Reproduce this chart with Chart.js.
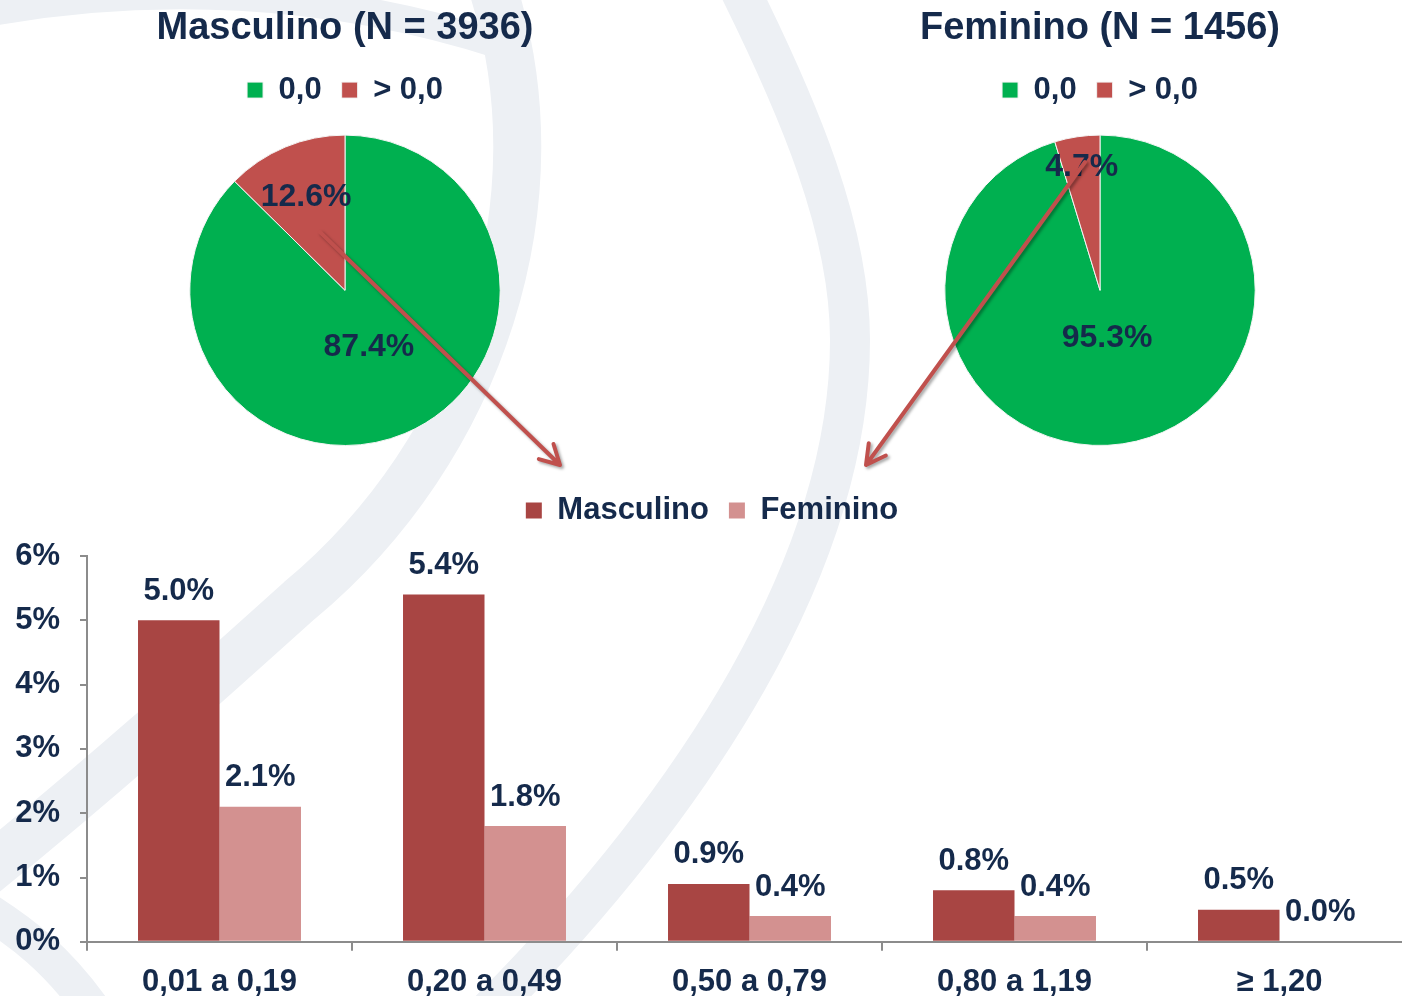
<!DOCTYPE html>
<html>
<head>
<meta charset="utf-8">
<script src="https://cdn.jsdelivr.net/npm/chart.js@4.4.1/dist/chart.umd.min.js"></script>
<style>
  body { margin: 0; background: #fff; overflow: hidden; width: 1402px; height: 996px; position: relative; }
  canvas { position: absolute; }
</style>
</head>
<body>
<canvas id="bg" width="1402" height="996" style="left:0;top:0"></canvas>
<canvas id="pieM" width="420" height="446" style="left:135px;top:0"></canvas>
<canvas id="pieF" width="420" height="446" style="left:890px;top:0"></canvas>
<canvas id="bars" width="1415" height="539" style="left:0;top:475px"></canvas>
<canvas id="overlay" width="1402" height="996" style="left:0;top:0;pointer-events:none"></canvas>
<script>
const pieLabels = ['0,0', '> 0,0']
const pieTitles = ['Masculino (N = 3936)', 'Feminino (N = 1456)']
const masculinoPie = [87.4, 12.6]
const femininoPie = [95.3, 4.7]

const categories = ['0,01 a 0,19', '0,20 a 0,49', '0,50 a 0,79', '0,80 a 1,19', '\u2265 1,20']
const masculinoBars = [5.0, 5.4, 0.9, 0.8, 0.5]
const femininoBars = [2.1, 1.8, 0.4, 0.4, 0.0]
const yMax = 6

const NAVY = '#152a4b'
const GREEN = '#00b050'
const RED = '#c0504d'
const BAR_M = '#a84543'
const BAR_F = '#d39190'
const AXIS = '#8c8c8c'
const FONT = '"Liberation Sans", Arial, sans-serif'

Chart.defaults.font.family = FONT
Chart.defaults.font.weight = 'bold'
Chart.defaults.color = NAVY
Chart.defaults.animation = false

// faint watermark arcs behind everything
const bg = document.getElementById('bg').getContext('2d')
bg.strokeStyle = '#edf0f4'
bg.lineCap = 'butt'
function band(w, segs) {
  bg.lineWidth = w
  bg.beginPath()
  bg.moveTo(segs[0][0], segs[0][1])
  segs.slice(1).forEach(s => bg.bezierCurveTo(s[0], s[1], s[2], s[3], s[4], s[5]))
  bg.stroke()
}
band(48, [[490, -20], [565, 200, 480, 450, 300, 600], [200, 690, 100, 780, -30, 885]])
band(40, [[735, -20], [800, 110, 850, 230, 850, 340], [850, 560, 700, 800, 480, 1020]])
band(28, [[-20, 14], [150, -18, 330, -10, 500, 45]])
band(36, [[-30, 900], [20, 930, 60, 960, 100, 1020]])

// give the legend some extra room underneath
const legendGap = {
  id: 'legendGap',
  beforeInit(chart, args, opts) {
    const fit = chart.legend.fit
    chart.legend.fit = function () {
      fit.call(this)
      this.height += opts.gap
    }
  }
}

const pieLabelPlugin = {
  id: 'pieLabels',
  afterDatasetsDraw(chart, args, opts) {
    const ctx = chart.ctx
    const meta = chart.getDatasetMeta(0)
    ctx.save()
    ctx.font = 'bold 32px ' + FONT
    ctx.fillStyle = NAVY
    ctx.textAlign = 'center'
    ctx.textBaseline = 'middle'
    meta.data.forEach((arc, i) => {
      const mid = (arc.startAngle + arc.endAngle) / 2
      const r = arc.outerRadius * opts.frac[i]
      const v = chart.data.datasets[0].data[i]
      ctx.fillText(v.toFixed(1) + '%', arc.x + Math.cos(mid) * r, arc.y + Math.sin(mid) * r)
    })
    ctx.restore()
  }
}

function makePie(id, title, values, frac) {
  return new Chart(document.getElementById(id), {
    type: 'pie',
    data: {
      labels: pieLabels,
      datasets: [{ data: values, backgroundColor: [GREEN, RED], borderColor: '#f4f4f4', borderWidth: 1 }]
    },
    options: {
      responsive: false,
      plugins: {
        title: { display: true, text: title, font: { size: 38, weight: 'bold' }, color: NAVY, padding: { top: 6, bottom: 3 } },
        legend: {
          position: 'top',
          labels: { boxWidth: 16, boxHeight: 16, padding: 20, font: { size: 31, weight: 'bold' }, color: NAVY }
        },
        tooltip: { enabled: false },
        legendGap: { gap: 19 },
        pieLabels: { frac: frac }
      }
    },
    plugins: [legendGap, pieLabelPlugin]
  })
}

makePie('pieM', pieTitles[0], masculinoPie, [0.4, 0.65])
makePie('pieF', pieTitles[1], femininoPie, [0.31, 0.8])

const barLabelPlugin = {
  id: 'barLabels',
  afterDatasetsDraw(chart) {
    const ctx = chart.ctx
    ctx.save()
    ctx.font = 'bold 31px ' + FONT
    ctx.fillStyle = NAVY
    ctx.textAlign = 'center'
    ctx.textBaseline = 'middle'
    chart.data.datasets.forEach((ds, di) => {
      chart.getDatasetMeta(di).data.forEach((bar, i) => {
        ctx.fillText(ds.data[i].toFixed(1) + '%', bar.x, bar.y - 29)
      })
    })
    ctx.restore()
  }
}

new Chart(document.getElementById('bars'), {
  type: 'bar',
  data: {
    labels: categories,
    datasets: [
      { label: 'Masculino', data: masculinoBars, backgroundColor: BAR_M, categoryPercentage: 0.615, barPercentage: 1 },
      { label: 'Feminino', data: femininoBars, backgroundColor: BAR_F, categoryPercentage: 0.615, barPercentage: 1 }
    ]
  },
  options: {
    responsive: false,
    layout: { padding: { left: 12, right: 3, top: 0, bottom: 0 } },
    plugins: {
      legend: {
        position: 'top',
        labels: { boxWidth: 16, boxHeight: 16, padding: 20, font: { size: 31, weight: 'bold' }, color: NAVY }
      },
      tooltip: { enabled: false },
      legendGap: { gap: 20 }
    },
    scales: {
      x: {
        grid: { display: true, drawOnChartArea: false, tickLength: 9, color: AXIS, lineWidth: 2 },
        border: { display: true, color: AXIS, width: 2 },
        ticks: { font: { size: 31, weight: 'bold' }, color: NAVY, padding: 13, maxRotation: 0 }
      },
      y: {
        min: 0,
        max: yMax,
        grid: { display: true, drawOnChartArea: false, tickLength: 7, color: AXIS, lineWidth: 2 },
        border: { display: true, color: AXIS, width: 2 },
        ticks: { stepSize: 1, font: { size: 31, weight: 'bold' }, color: NAVY, padding: 20, callback: v => v + '%' },
        afterFit(scale) { scale.width = 75 }
      }
    }
  },
  plugins: [legendGap, barLabelPlugin]
})

// arrows from the red slices down to the bar legend
const ARROWS = [
  { from: [320, 232], to: [560, 465] },
  { from: [1085, 162], to: [866, 465] }
]
const ov = document.getElementById('overlay').getContext('2d')
ov.strokeStyle = RED
ov.lineWidth = 4
ov.lineCap = 'round'
ov.lineJoin = 'round'
ov.shadowColor = 'rgba(0,0,0,0.35)'
ov.shadowBlur = 3
ov.shadowOffsetX = 2
ov.shadowOffsetY = 2
ARROWS.forEach(a => {
  const [x1, y1] = a.from
  const [x2, y2] = a.to
  const ang = Math.atan2(y2 - y1, x2 - x1)
  ov.beginPath()
  ov.moveTo(x1, y1)
  ov.lineTo(x2, y2)
  ov.moveTo(x2 - 22 * Math.cos(ang - 0.5), y2 - 22 * Math.sin(ang - 0.5))
  ov.lineTo(x2, y2)
  ov.lineTo(x2 - 22 * Math.cos(ang + 0.5), y2 - 22 * Math.sin(ang + 0.5))
  ov.stroke()
})
</script>
</body>
</html>
